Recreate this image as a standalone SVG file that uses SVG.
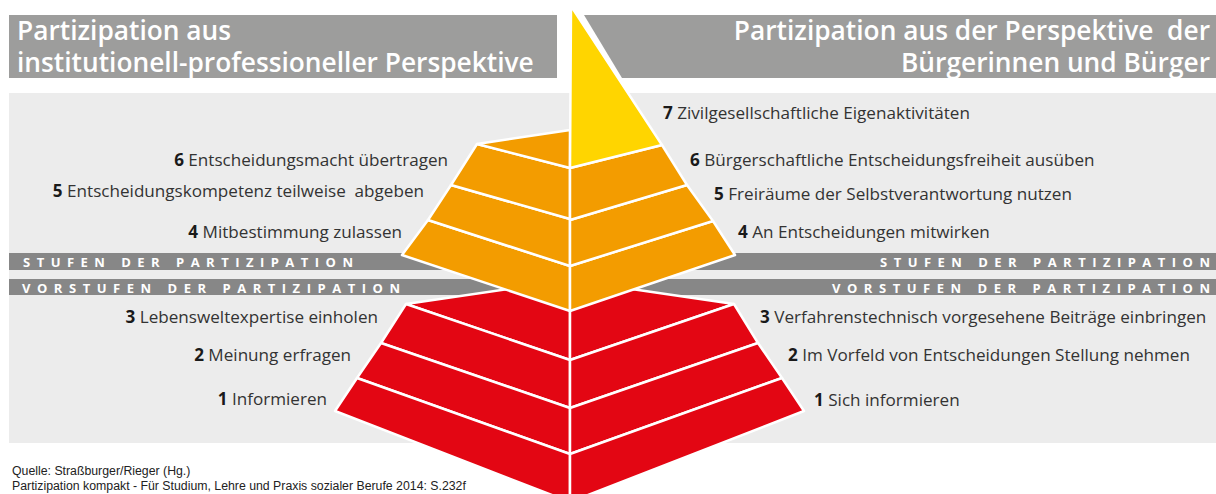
<svg xmlns="http://www.w3.org/2000/svg" width="1216" height="494" viewBox="0 0 1216 494">
<style>
.hdr{fill:#9d9d9c}
.band{fill:#878787}
.hdrt{font-family:"Open Sans","Liberation Sans",sans-serif;font-weight:600;font-size:26.3px;fill:#fff}
.bt{font-family:"Open Sans","Liberation Sans",sans-serif;font-weight:700;font-size:13px;fill:#fff}
.lbl{font-family:"Open Sans","Liberation Sans",sans-serif;font-size:17.1px;fill:#333}
.lbl tspan.n{font-weight:700;fill:#1a1a1a}
.y{fill:#ffd500;stroke:#fff;stroke-width:2.5;stroke-linejoin:round}
.o{fill:#f39c00;stroke:#fff;stroke-width:2.5;stroke-linejoin:round}
.r{fill:#e30613;stroke:#fff;stroke-width:2.5;stroke-linejoin:round}
.src{font-family:"Liberation Sans",Arial,sans-serif;font-size:12.3px;fill:#222}
</style>
<rect id="panel" x="9" y="93" width="1207" height="350" fill="#ececec"/>
<g id="header-left">
<rect class="hdr" x="9" y="15" width="548" height="63"/>
<text class="hdrt" x="17" y="40">Partizipation aus</text>
<text class="hdrt" x="17" y="72">institutionell-professioneller Perspektive</text>
</g>
<g id="header-right">
<polygon class="hdr" points="584,15 1216,15 1216,78 622,78"/>
<text class="hdrt" x="1210" y="40" text-anchor="end" xml:space="preserve">Partizipation aus der Perspektive  der</text>
<text class="hdrt" x="1210" y="72" text-anchor="end">Bürgerinnen und Bürger</text>
</g>
<g id="band-stufen">
<rect class="band" x="9" y="253" width="561" height="17"/>
<rect class="band" x="570" y="253" width="646" height="17"/>
<text class="bt" x="23" y="266.5" textLength="330" lengthAdjust="spacing">STUFEN DER PARTIZIPATION</text>
<text class="bt" x="880" y="266.5" textLength="330" lengthAdjust="spacing">STUFEN DER PARTIZIPATION</text>
</g>
<g id="band-vorstufen">
<rect class="band" x="9" y="279" width="561" height="16"/>
<rect class="band" x="570" y="279" width="646" height="16"/>
<text class="bt" x="22" y="292.5" textLength="378" lengthAdjust="spacing">VORSTUFEN DER PARTIZIPATION</text>
<text class="bt" x="832" y="292.5" textLength="378" lengthAdjust="spacing">VORSTUFEN DER PARTIZIPATION</text>
</g>
<g id="vorstufen-top">
<polygon class="r" points="406,304 570,280 570,360"/>
<polygon class="r" points="734,304 570,280 570,360"/>
</g>
<g id="level-3">
<polygon class="r" points="406,304 570,360 570,408 381,343"/>
<polygon class="r" points="734,304 570,360 570,408 758,343"/>
<text class="lbl" x="378" y="323" text-anchor="end"><tspan class="n">3</tspan> Lebensweltexpertise einholen</text>
<text class="lbl" x="760" y="323"><tspan class="n">3</tspan> Verfahrenstechnisch vorgesehene Beiträge einbringen</text>
</g>
<g id="level-2">
<polygon class="r" points="381,343 570,408 570,454 357,378"/>
<polygon class="r" points="758,343 570,408 570,454 782,378"/>
<text class="lbl" x="351" y="361" text-anchor="end"><tspan class="n">2</tspan> Meinung erfragen</text>
<text class="lbl" x="788" y="361"><tspan class="n">2</tspan> Im Vorfeld von Entscheidungen Stellung nehmen</text>
</g>
<g id="level-1">
<polygon class="r" points="357,378 570,454 570,502 335,411"/>
<polygon class="r" points="782,378 570,454 570,502 804,411"/>
<text class="lbl" x="327" y="405" text-anchor="end"><tspan class="n">1</tspan> Informieren</text>
<text class="lbl" x="814" y="406"><tspan class="n">1</tspan> Sich informieren</text>
</g>
<g id="level-4">
<polygon class="o" points="428,220 570,266 570,311 402,255"/>
<polygon class="o" points="713,221 570,266 570,311 735,255"/>
<text class="lbl" x="402" y="238" text-anchor="end"><tspan class="n">4</tspan> Mitbestimmung zulassen</text>
<text class="lbl" x="738" y="238"><tspan class="n">4</tspan> An Entscheidungen mitwirken</text>
</g>
<g id="level-5">
<polygon class="o" points="451,185 570,219 570,266 428,220"/>
<polygon class="o" points="687,185 570,220 570,266 713,221"/>
<text class="lbl" x="424" y="197" text-anchor="end" xml:space="preserve"><tspan class="n">5</tspan> Entscheidungskompetenz teilweise  abgeben</text>
<text class="lbl" x="714" y="200"><tspan class="n">5</tspan> Freiräume der Selbstverantwortung nutzen</text>
</g>
<g id="level-6">
<polygon class="o" points="477,144 570,168 570,219 451,185"/>
<polygon class="o" points="662,145 570,168 570,220 687,185"/>
<text class="lbl" x="448" y="166" text-anchor="end"><tspan class="n">6</tspan> Entscheidungsmacht übertragen</text>
<text class="lbl" x="690" y="166"><tspan class="n">6</tspan> Bürgerschaftliche Entscheidungsfreiheit ausüben</text>
</g>
<g id="level-7">
<polygon class="o" points="477,144 570,130 570,168"/>
<polygon class="y" points="571,6 662,145 570,168"/>
<text class="lbl" x="663" y="119"><tspan class="n">7</tspan> Zivilgesellschaftliche Eigenaktivitäten</text>
</g>
<g id="source">
<text class="src" x="12" y="475">Quelle: Straßburger/Rieger (Hg.)</text>
<text class="src" x="12" y="490">Partizipation kompakt - Für Studium, Lehre und Praxis sozialer Berufe 2014: S.232f</text>
</g>
</svg>
